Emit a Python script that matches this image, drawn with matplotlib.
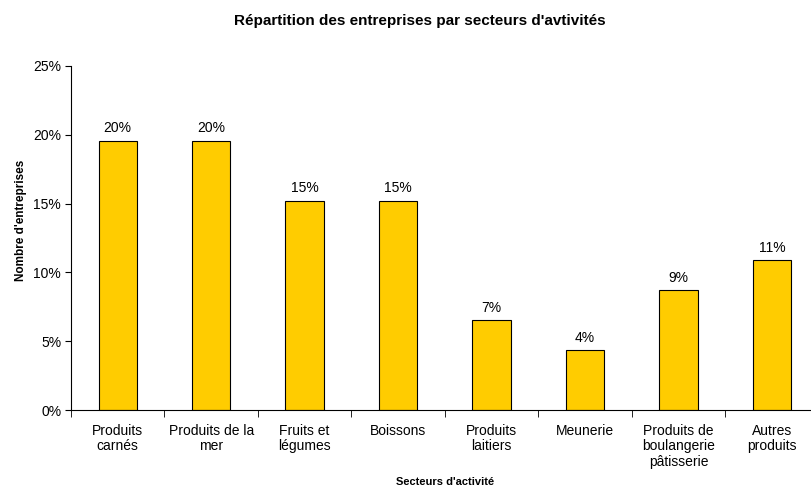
import matplotlib.pyplot as plt
import numpy as np

plt.rcParams["font.family"] = ["Liberation Sans", "DejaVu Sans"]

# Données
secteurs = [
    "Produits\ncarnés",
    "Produits de la\nmer",
    "Fruits et\nlégumes",
    "Boissons",
    "Produits\nlaitiers",
    "Meunerie",
    "Produits de\nboulangerie\npâtisserie",
    "Autres\nproduits",
]
nb_entreprises = [9, 9, 7, 7, 3, 2, 4, 5]
parts = np.array(nb_entreprises) / sum(nb_entreprises) * 100

fig = plt.figure(figsize=(8.11, 4.88), dpi=100)
ax = fig.add_axes([0.0875, 0.1598, 0.922, 0.705])

x = np.arange(len(secteurs))
bars = ax.bar(x, parts, width=0.41, color="#FFCC00", edgecolor="black", linewidth=0.8)

for b, v in zip(bars, parts):
    ax.text(b.get_x() + b.get_width() / 2, v + 0.4, f"{v:.0f}%",
            ha="center", va="bottom", fontsize=10)

ax.set_xlim(-0.5, len(secteurs) - 0.5)
ax.set_ylim(0, 25)
ax.set_yticks(np.arange(0, 26, 5))
ax.set_yticklabels([f"{t}%" for t in range(0, 26, 5)], fontsize=10)
ax.set_xticks(x)
ax.set_xticklabels(secteurs, fontsize=10, va="top", linespacing=1.12)
ax.tick_params(axis="x", length=0, pad=10)
ax.set_xticks(np.arange(-0.5, len(secteurs), 1), minor=True)
ax.tick_params(axis="x", which="minor", length=5, direction="out")
ax.tick_params(axis="y", length=4, direction="out", pad=3)

ax.spines["top"].set_visible(False)
ax.spines["right"].set_visible(False)

fig.text(0.026, 0.549, "Nombre d'entreprises", fontsize=8.5, fontweight="bold",
         rotation=90, ha="center", va="center")
fig.text(0.549, 0.006, "Secteurs d'activité", fontsize=8, fontweight="bold", ha="center")
fig.suptitle("Répartition des entreprises par secteurs d'avtivités", fontsize=11,
             fontweight="bold", x=0.518, y=0.972)

fig.savefig("out.png", dpi=100)
